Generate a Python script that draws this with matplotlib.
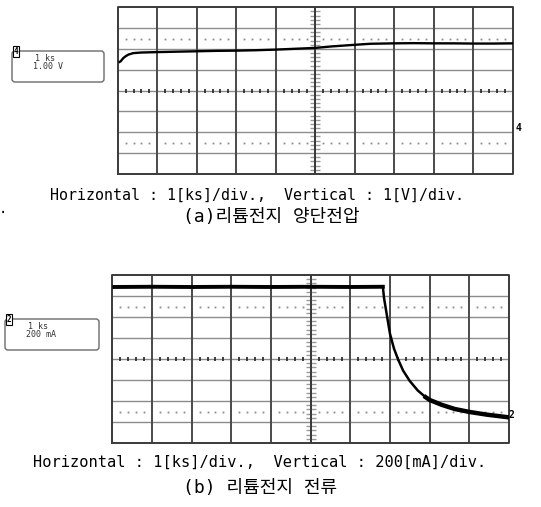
import matplotlib
matplotlib.use('Agg')
import matplotlib.pyplot as plt
from matplotlib.patches import FancyBboxPatch

plt.rcParams['font.family'] = ['DejaVu Sans Mono', 'Noto Sans CJK KR']

# 파형 데이터 (div 단위: 가로 0~10, 세로 0~8)
volt_x = [0.05, 0.08, 0.14, 0.20, 0.27, 0.39, 0.60, 1.0, 1.5, 2.0, 2.5, 3.0, 3.5,
          4.0, 4.5, 5.0, 5.4, 6.0, 6.4, 7.0, 7.5, 8.0, 8.5, 9.0, 9.5, 10.0]
volt_y = [5.38, 5.42, 5.56, 5.65, 5.73, 5.80, 5.83, 5.85, 5.87, 5.89, 5.91, 5.92, 5.94,
          5.97, 6.01, 6.05, 6.12, 6.20, 6.25, 6.27, 6.28, 6.27, 6.27, 6.26, 6.26, 6.27]

curr_x = [0.05, 1.0, 2.0, 3.0, 4.0, 5.0, 6.0, 6.82, 6.85, 6.92, 7.0, 7.1, 7.2, 7.33,
          7.5, 7.7, 7.9, 8.0, 8.3, 8.63, 9.0, 9.44, 10.0]
curr_y = [7.43, 7.44, 7.43, 7.44, 7.43, 7.44, 7.43, 7.44, 6.90, 6.10, 5.20, 4.50, 4.00, 3.45,
          2.95, 2.50, 2.18, 2.05, 1.82, 1.62, 1.48, 1.35, 1.22]

volt_gnd = 2.2   # 채널4 기준
curr_gnd = 1.33  # 채널2 기준

cap_a = ['Horizontal : 1[ks]/div.,  Vertical : 1[V]/div.', '(a)리튬전지 양단전압']
cap_b = ['Horizontal : 1[ks]/div.,  Vertical : 200[mA]/div.', '(b) 리튬전지 전류']
box_a = ['1 ks', '1.00 V']
box_b = ['1 ks', '200 mA']

W, H = 541, 507


def scope_grid(ax):
    ax.set_xlim(0, 10)
    ax.set_ylim(0, 8)
    ax.axis('off')
    for i in range(1, 8):
        ax.axhline(i, color='#8c8c8c', lw=1.0, zorder=1)
    for i in range(1, 10):
        ax.axvline(i, color='#4a4a4a', lw=1.4, zorder=1)
    ax.plot([0, 10, 10, 0, 0], [0, 0, 8, 8, 0], color='#3a3a3a', lw=1.4,
            zorder=1, clip_on=False)
    sub = [i + k * 0.2 for i in range(10) for k in range(1, 5)]
    ax.plot(sub, [4] * len(sub), ls='none', marker='|', ms=3, mew=1.2,
            color='#222222', zorder=2)
    for yy in (1.5, 6.5):
        ax.plot(sub, [yy] * len(sub), ls='none', marker='s', ms=1.3, mew=0,
                color='#8a8a8a', zorder=2)
    subv = [j + k * 0.2 for j in range(8) for k in range(1, 5)]
    ax.plot([5] * len(subv), subv, ls='none', marker='_', ms=7, mew=1.0,
            color='#9a9a9a', zorder=2)
    ax.axvline(5, color='#3a3a3a', lw=1.4, zorder=2)


fig = plt.figure(figsize=(W / 100, H / 100), dpi=100)

ax1 = fig.add_axes([117.7 / W, 1 - 174 / H, 395 / W, 166.7 / H])
scope_grid(ax1)
ax1.plot(volt_x, volt_y, color='black', lw=1.7, zorder=3)
ax1.text(10.08, volt_gnd, '4', fontsize=7, fontweight='bold', ha='left', va='center')

ax2 = fig.add_axes([112.3 / W, 1 - 443 / H, 396.7 / W, 168 / H])
scope_grid(ax2)
ax2.plot(curr_x, curr_y, color='black', lw=1.8, zorder=3)
ax2.plot(curr_x[:8], curr_y[:8], color='black', lw=2.8, zorder=3)
ax2.plot(curr_x[16:], curr_y[16:], color='black', lw=3.2, zorder=3)
ax2.text(9.98, curr_gnd, '2', fontsize=7, fontweight='bold', ha='left', va='center')

# 텍스트, 박스 (픽셀 좌표)
ov = fig.add_axes([0, 0, 1, 1])
ov.set_xlim(0, W)
ov.set_ylim(H, 0)
ov.axis('off')


def label_box(x, y, w, h, ch, lines):
    ov.add_patch(FancyBboxPatch((x, y), w, h, boxstyle='round,pad=0,rounding_size=3',
                                fc='none', ec='#6a6a6a', lw=1.0))
    ov.text(x + 4, y + 0.5, ch, fontsize=5.5, fontweight='bold', ha='center', va='center',
            bbox=dict(boxstyle='square,pad=0.1', fc='white', ec='black', lw=0.8))
    ov.text(x + 33, y + 7.5, lines[0], fontsize=6, ha='center', va='center', color='#333333')
    ov.text(x + 36, y + 15.5, lines[1], fontsize=6, ha='center', va='center', color='#333333')


label_box(12, 51, 92, 31, '4', box_a)
label_box(5, 319, 94, 31, '2', box_b)

ov.text(257, 195, cap_a[0], fontsize=10.8, ha='center', va='center')
ov.text(271, 217, cap_a[1], fontsize=13, ha='center', va='center')
ov.text(3, 213, '·', fontsize=10, ha='center', va='center')
ov.text(259.5, 462, cap_b[0], fontsize=11.1, ha='center', va='center')
ov.text(260, 488, cap_b[1], fontsize=13, ha='center', va='center')

fig.savefig('out.png', dpi=100)
